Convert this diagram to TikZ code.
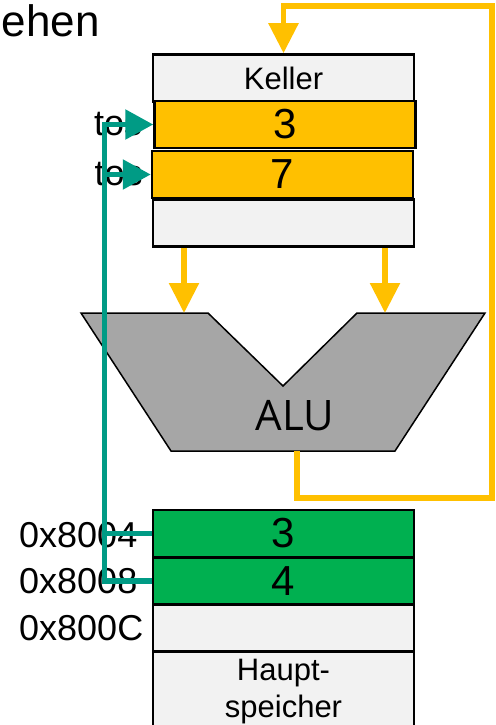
\documentclass[tikz,border=0pt]{standalone}
\usepackage{fontspec}
\setmainfont{Liberation Sans}
\newfontfamily\alufont{Open Sans}
\usetikzlibrary{arrows.meta}
\definecolor{kellergelb}{HTML}{FFC000}
\definecolor{speichergruen}{HTML}{00B050}
\definecolor{zeigerteal}{HTML}{009B85}
\definecolor{zellgrau}{HTML}{F2F2F2}
\definecolor{alugrau}{HTML}{A6A6A6}

\begin{document}
\begin{tikzpicture}[
    x=1pt, y=-1pt,
    cell/.style={
        draw, line width=2.5pt, fill=zellgrau,
        minimum width=261pt, minimum height=47pt,
        inner sep=0pt, text centered, align=center,
        font=\fontsize{31}{37}\selectfont
    },
    val/.style={font=\fontsize{42}{46}\selectfont},
    lbl/.style={font=\fontsize{36}{40}\selectfont, inner sep=0pt},
    feed/.style={draw=kellergelb, line width=5.5pt, -{Triangle[length=30pt, width=29pt]}},
    ptr/.style={draw=zeigerteal, line width=5.5pt},
]
\clip (0,0) rectangle (495,725);

% Title fragment (top left)
\node[font=\fontsize{44}{48}\selectfont, inner sep=0pt, anchor=base east] (titel) at (100,37) {ehen};

% Keller (stack), top column
\node[cell] (kopf) at (283.5, 78) {Keller};
\node[cell, fill=kellergelb, val] (k3) at (285, 124.5) {3};
\node[cell, fill=kellergelb, val] (k7) at (282.5, 174.5) {7};
\node[cell] (kleer) at (283.5, 223) {};

% ALU
\draw[fill=alugrau, line width=1.5pt] (81,313) -- (208,313) -- (283,386) -- (357,313)
    -- (485,313) -- (395,451) -- (171,451) -- cycle;
\node[font=\alufont\fontsize{42}{46}\selectfont] (alu) at (295,416) {ALU};
\coordinate (aluein1) at (184,313);
\coordinate (aluein2) at (385,313);
\coordinate (aluaus) at (297,451);

% Hauptspeicher, bottom column
\node[cell, fill=speichergruen, val] (m3) at (283.5, 533.5) {3};
\node[cell, fill=speichergruen, val] (m4) at (283.5, 581) {4};
\node[cell] (mleer) at (283.5, 628) {};
\node[cell, minimum height=80pt] (haupt) at (283.5, 692) {Haupt-\\speicher};

% Labels left of the cells
\node[lbl, anchor=east] (tos1) at ([xshift=-11pt]k3.west) {tos};
\node[lbl, anchor=east] (tos2) at ([xshift=-8pt]k7.west) {tos};
\node[lbl, anchor=west] (a8004) at (19,535) {0x8004};
\node[lbl, anchor=west] (a8008) at (19,581) {0x8008};
\node[lbl, anchor=west] (a800c) at (19,628) {0x800C};

% Operands from Keller into ALU
\draw[feed] (kleer.south -| aluein1) -- (aluein1);
\draw[feed] (kleer.south -| aluein2) -- (aluein2);

% Result back onto the Keller (wide right, then over the top)
\coordinate (rueck) at (492,6);
\draw[feed] (aluaus) -- (297,498) -| (rueck) -| (kopf.north);

% Pointers from memory addresses to tos
\coordinate (bus) at (104.5,0);
\draw[ptr, -{Triangle[length=28pt, width=29pt]}] (m3.west) -| (bus |- k3.west) -- (k3.west);
\draw[ptr, -{Triangle[length=28pt, width=29pt]}] (m4.west) -| (bus |- k7.west) -- (k7.west);

\end{tikzpicture}
\end{document}
